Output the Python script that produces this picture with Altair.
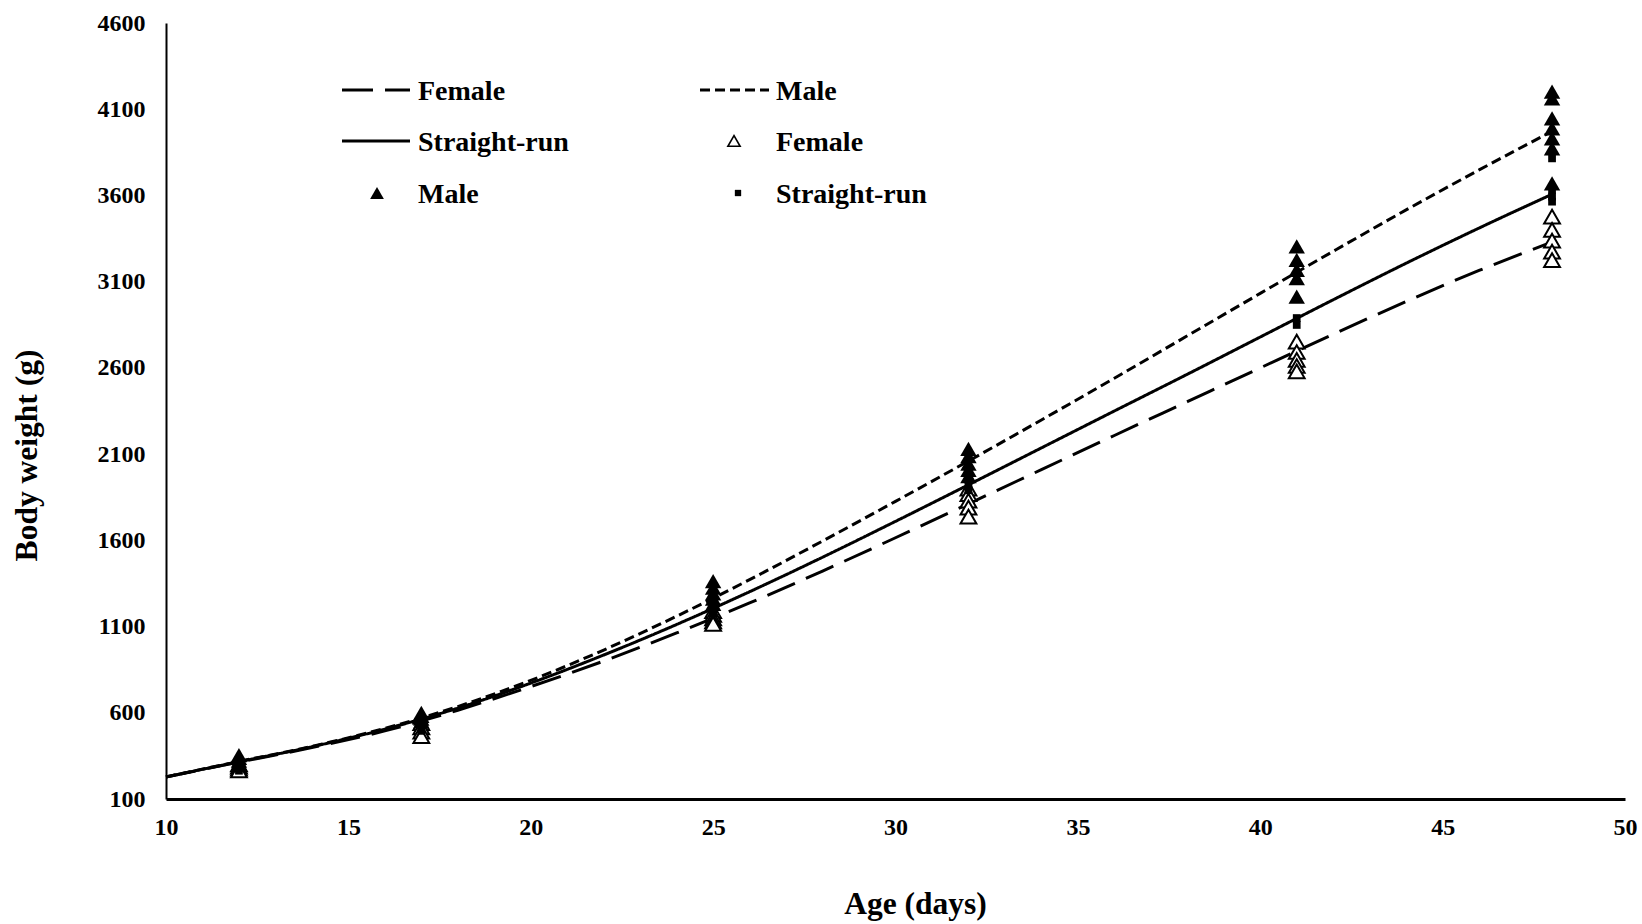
import altair as alt
import pandas as pd

# Fitted growth curves (g) read at two-day steps
curve_days = [10, 12, 14, 16, 18, 20, 22, 24, 26, 28, 30, 32, 34, 36, 38, 40, 42, 44, 46, 48]
female_fit = [228, 314, 398, 495, 615, 752, 900, 1063, 1237, 1422, 1615, 1812, 2010, 2208, 2404, 2600, 2795, 2985, 3165, 3330]
male_fit = [228, 318, 405, 510, 636, 788, 964, 1160, 1372, 1596, 1826, 2060, 2298, 2540, 2786, 3032, 3276, 3516, 3748, 3972]
straight_fit = [228, 316, 403, 505, 627, 772, 935, 1112, 1302, 1502, 1710, 1922, 2136, 2350, 2563, 2779, 2995, 3207, 3411, 3607]

# Observed body weights (g) per weighing age
obs_ages = [12, 17, 25, 32, 41, 48]
female_obs = [
    [300, 288, 276, 266],
    [540, 515, 490, 465],
    [1190, 1168, 1148, 1130, 1115],
    [1900, 1868, 1830, 1790, 1738],
    [2752, 2692, 2646, 2611, 2580],
    [3477, 3400, 3338, 3274, 3225],
]
male_obs = [
    [355, 338, 322, 308],
    [600, 582, 566, 550],
    [1364, 1325, 1292, 1262, 1232],
    [2130, 2088, 2045, 2008, 1972],
    [3305, 3226, 3168, 3121, 3013],
    [4202, 4163, 4047, 3989, 3931, 3873, 3670],
]
straight_obs = [
    [292, 278, 264],
    [560, 538, 515, 495],
    [1250, 1222, 1198, 1178],
    [1990, 1952, 1920, 1890],
    [2889, 2849],
    [3815, 3632, 3593, 3564],
]

series_names = ["Female", "Male", "Straight-run"]
x_ticks = [10, 15, 20, 25, 30, 35, 40, 45, 50]
y_ticks = [100, 600, 1100, 1600, 2100, 2600, 3100, 3600, 4100, 4600]

FONT = "Liberation Serif"
W, H = 1459, 776

curves = pd.DataFrame(
    [{"day": d, "weight": v, "series": s}
     for s, vals in zip(series_names, [female_fit, male_fit, straight_fit])
     for d, v in zip(curve_days, vals)]
)
obs = pd.DataFrame(
    [{"day": a, "weight": v, "series": s}
     for s, groups in zip(series_names, [female_obs, male_obs, straight_obs])
     for a, vals in zip(obs_ages, groups)
     for v in vals]
)

x_enc = alt.X(
    "day:Q",
    scale=alt.Scale(domain=[10, 50], nice=False, zero=False),
    axis=alt.Axis(
        values=x_ticks, format="d", grid=False, ticks=False, labelFlush=False,
        domainColor="black", domainWidth=3,
        labelFont=FONT, labelFontSize=24, labelFontWeight="bold", labelColor="black",
        labelPadding=16,
        title="Age (days)", titleFont=FONT, titleFontSize=31.5, titleFontWeight="bold",
        titleColor="black", titleX=749, titleY=114, titleAlign="center",
        titleBaseline="alphabetic",
    ),
)
y_enc = alt.Y(
    "weight:Q",
    scale=alt.Scale(domain=[100, 4600], nice=False, zero=False),
    axis=alt.Axis(
        values=y_ticks, format="d", grid=False, ticks=False, labelFlush=False,
        domainColor="black", domainWidth=2,
        labelFont=FONT, labelFontSize=24, labelFontWeight="bold", labelColor="black",
        labelPadding=21,
        title="Body weight (g)", titleFont=FONT, titleFontSize=31.5, titleFontWeight="bold",
        titleColor="black", titleAngle=270, titleX=-130, titleY=432,
        titleAlign="center", titleBaseline="alphabetic",
    ),
)

dash_scale = alt.Scale(domain=series_names, range=[[30, 12], [10, 5], [1, 0]])

lines = alt.Chart(curves).mark_line(
    color="black", strokeWidth=3, interpolate="monotone"
).encode(
    x=x_enc, y=y_enc,
    strokeDash=alt.StrokeDash("series:N", scale=dash_scale, legend=None),
    detail="series:N",
)

female_pts = alt.Chart(obs).transform_filter(alt.datum.series == "Female").mark_point(
    shape="triangle-up", filled=True, fill="white", stroke="black", strokeWidth=2,
    size=250, opacity=1,
).encode(x=x_enc, y=y_enc)

male_pts = alt.Chart(obs).transform_filter(alt.datum.series == "Male").mark_point(
    shape="triangle-up", filled=True, color="black", size=270, opacity=1,
).encode(x=x_enc, y=y_enc)

straight_pts = alt.Chart(obs).transform_filter(alt.datum.series == "Straight-run").mark_point(
    shape="square", filled=True, color="black", size=60, opacity=1,
).encode(x=x_enc, y=y_enc)

# Key drawn inside the plot area, two columns by three rows
single = alt.Data(values=[{"k": 0}])
rows = [67, 118, 170]


def key_line(x0, x1, yc, dash):
    return alt.Chart(single).mark_rule(
        color="black", strokeWidth=3, strokeDash=dash
    ).encode(x=alt.value(x0), x2=alt.value(x1), y=alt.value(yc))


def key_symbol(xc, yc, **kw):
    return alt.Chart(single).mark_point(opacity=1, **kw).encode(
        x=alt.value(xc), y=alt.value(yc)
    )


def key_text(x0, yc, label):
    return alt.Chart(single).mark_text(
        font=FONT, fontSize=28, fontWeight="bold", color="black",
        align="left", baseline="alphabetic",
    ).encode(x=alt.value(x0), y=alt.value(yc + 10), text=alt.value(label))


key = [
    key_line(176, 244, rows[0], [31, 12]), key_text(252, rows[0], "Female"),
    key_line(534, 603, rows[0], [10, 5]), key_text(610, rows[0], "Male"),
    key_line(176, 244, rows[1], [1, 0]), key_text(252, rows[1], "Straight-run"),
    key_symbol(568, rows[1], shape="triangle-up", filled=True, fill="white",
               stroke="black", strokeWidth=1.6, size=150),
    key_text(610, rows[1], "Female"),
    key_symbol(211, rows[2], shape="triangle-up", filled=True, color="black", size=190),
    key_text(252, rows[2], "Male"),
    key_symbol(572, rows[2], shape="square", filled=True, color="black", size=40),
    key_text(610, rows[2], "Straight-run"),
]

chart = alt.layer(lines, female_pts, male_pts, straight_pts, *key).properties(
    width=W, height=H,
    autosize=alt.AutoSizeParams(type="none"),
    padding={"left": 166, "top": 23, "right": 17, "bottom": 125},
    background="white",
).configure_view(stroke=None)

chart.save("out.html", embed_options={"renderer": "svg", "actions": False})
